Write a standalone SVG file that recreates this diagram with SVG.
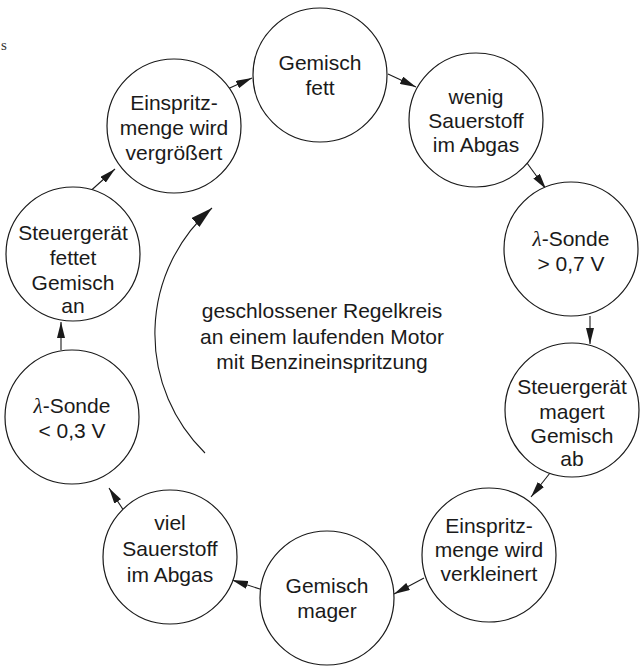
<svg xmlns="http://www.w3.org/2000/svg" width="644" height="669" viewBox="0 0 644 669">
<style>
.n{fill:#fff;stroke:#1a1a1a;stroke-width:1.2}
.t{font-family:"Liberation Sans",Arial,sans-serif;font-size:21px;fill:#1a1a1a;text-anchor:middle}
.c{stroke:#1a1a1a;stroke-width:1.1;fill:none}
</style>
<defs>
<marker id="ah" viewBox="0 0 16 8" refX="16" refY="4" markerWidth="16" markerHeight="8" markerUnits="userSpaceOnUse" orient="auto">
<path d="M0,0 L16,4 L0,8 Z" fill="#1a1a1a"/>
</marker>
<marker id="big" viewBox="0 0 22 12" refX="22" refY="6" markerWidth="22" markerHeight="12" markerUnits="userSpaceOnUse" orient="auto">
<path d="M0,0 L22,6 L0,12 Z" fill="#1a1a1a"/>
</marker>
</defs>
<rect width="644" height="669" fill="#fff"/>
<text x="1" y="50" style="font-family:'Liberation Serif',serif;font-size:15px;fill:#333">s</text>
<g id="connectors">
<line class="c" x1="388" y1="74" x2="416" y2="87" marker-end="url(#ah)"/>
<line class="c" x1="527" y1="163" x2="546" y2="189" marker-end="url(#ah)"/>
<line class="c" x1="590" y1="316" x2="590" y2="344" marker-end="url(#ah)"/>
<line class="c" x1="550" y1="473" x2="531" y2="497" marker-end="url(#ah)"/>
<line class="c" x1="424" y1="578" x2="394" y2="594" marker-end="url(#ah)"/>
<line class="c" x1="263" y1="590" x2="232" y2="580" marker-end="url(#ah)"/>
<line class="c" x1="124" y1="511" x2="109" y2="488" marker-end="url(#ah)"/>
<line class="c" x1="61" y1="350" x2="61" y2="322" marker-end="url(#ah)"/>
<line class="c" x1="86" y1="195" x2="115" y2="169" marker-end="url(#ah)"/>
<line class="c" x1="223" y1="91" x2="252" y2="78" marker-end="url(#ah)"/>
<path class="c" d="M205,453 A167,167 0 0 1 212,208" marker-end="url(#big)"/>
</g>
<g id="n1"><circle class="n" cx="320" cy="75" r="67"/><text class="t" x="320" y="70">Gemisch</text><text class="t" x="320" y="95">fett</text></g>
<g id="n2"><circle class="n" cx="476" cy="120" r="67"/><text class="t" x="476" y="104">wenig</text><text class="t" x="476" y="128">Sauerstoff</text><text class="t" x="476" y="152">im Abgas</text></g>
<g id="n3"><circle class="n" cx="571" cy="249" r="67"/><text class="t" x="571" y="246"><tspan font-family="'Liberation Serif',serif" font-style="italic">λ</tspan>-Sonde</text><text class="t" x="571" y="271">&gt; 0,7 V</text></g>
<g id="n4"><circle class="n" cx="572" cy="410" r="67"/><text class="t" x="572" y="394">Steuergerät</text><text class="t" x="572" y="419">magert</text><text class="t" x="572" y="443">Gemisch</text><text class="t" x="572" y="466">ab</text></g>
<g id="n5"><circle class="n" cx="489" cy="555" r="67"/><text class="t" x="489" y="533">Einspritz-</text><text class="t" x="489" y="557">menge wird</text><text class="t" x="489" y="581">verkleinert</text></g>
<g id="n6"><circle class="n" cx="327" cy="598" r="67"/><text class="t" x="327" y="593">Gemisch</text><text class="t" x="327" y="618">mager</text></g>
<g id="n7"><circle class="n" cx="170" cy="557" r="67"/><text class="t" x="170" y="530">viel</text><text class="t" x="170" y="556">Sauerstoff</text><text class="t" x="170" y="582">im Abgas</text></g>
<g id="n8"><circle class="n" cx="72" cy="417" r="67"/><text class="t" x="72" y="413"><tspan font-family="'Liberation Serif',serif" font-style="italic">λ</tspan>-Sonde</text><text class="t" x="72" y="438">&lt; 0,3 V</text></g>
<g id="n9"><circle class="n" cx="73" cy="254" r="67"/><text class="t" x="73" y="240">Steuergerät</text><text class="t" x="73" y="265">fettet</text><text class="t" x="73" y="290">Gemisch</text><text class="t" x="73" y="313">an</text></g>
<g id="n10"><circle class="n" cx="174" cy="126" r="67"/><text class="t" x="174" y="110">Einspritz-</text><text class="t" x="174" y="135">menge wird</text><text class="t" x="174" y="160">vergrößert</text></g>
<g id="center"><text class="t" x="322" y="318">geschlossener Regelkreis</text><text class="t" x="322" y="344">an einem laufenden Motor</text><text class="t" x="322" y="369">mit Benzineinspritzung</text></g>
</svg>
